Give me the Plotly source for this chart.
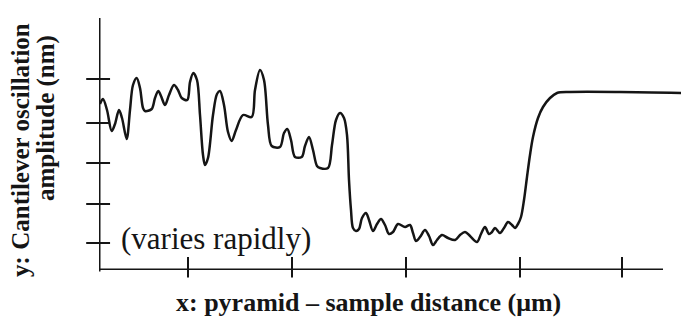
import plotly.graph_objects as go

# Cantilever oscillation amplitude vs. pyramid-sample distance (schematic trace)
distance_um = [
    0.01, 0.04, 0.08, 0.127, 0.16, 0.20, 0.23, 0.277, 0.31, 0.34, 0.377, 0.41, 0.44, 0.46,
    0.527, 0.56, 0.593, 0.62, 0.66, 0.70, 0.75, 0.79, 0.827, 0.883, 0.91, 0.943, 0.98,
    1.01, 1.04, 1.06, 1.09, 1.14, 1.18, 1.21, 1.25, 1.29, 1.327, 1.37, 1.44, 1.527, 1.56,
    1.61, 1.65, 1.69, 1.727, 1.81, 1.85, 1.883, 1.92, 1.96, 2.027, 2.06, 2.10, 2.14, 2.18,
    2.21, 2.29, 2.33, 2.37, 2.41, 2.45, 2.48, 2.50, 2.52, 2.54, 2.57, 2.60, 2.63, 2.67,
    2.70, 2.74, 2.78, 2.82, 2.86, 2.90, 2.94, 2.99, 3.06, 3.11, 3.14, 3.17, 3.21, 3.26,
    3.30, 3.34, 3.38, 3.43, 3.49, 3.56, 3.61, 3.66, 3.71, 3.78, 3.82, 3.86, 3.90, 3.93,
    3.96, 4.01, 4.05, 4.09, 4.13, 4.16, 4.19, 4.22, 4.25, 4.28, 4.31, 4.34, 4.39, 4.44,
    4.51, 4.58, 4.71, 5.21, 5.82,
]
amplitude_nm = [
    16.6, 17.1, 16.0, 13.9, 14.6, 16.0, 15.2, 13.1, 16.0, 18.5, 19.2, 18.2, 16.2, 15.9,
    16.1, 17.2, 17.9, 17.4, 16.5, 17.5, 18.5, 18.0, 17.2, 17.0, 18.8, 19.7, 19.0, 15.5,
    11.5, 10.5, 11.2, 15.5, 17.6, 17.9, 16.5, 13.8, 12.9, 14.0, 15.5, 15.3, 18.0, 20.0,
    19.0, 14.5, 12.4, 12.3, 13.7, 14.1, 13.0, 11.3, 11.3, 12.4, 13.3, 12.0, 10.4, 10.2,
    10.2, 12.5, 15.0, 15.7, 15.2, 13.5, 9.0, 6.0, 4.2, 3.9, 4.1, 5.2, 5.7, 5.0, 3.9, 4.6,
    5.1, 4.5, 3.6, 3.8, 4.6, 4.3, 4.5, 3.7, 2.9, 3.3, 4.0, 3.4, 2.5, 3.0, 3.5, 3.2, 3.0,
    3.5, 3.8, 3.4, 2.8, 3.6, 4.3, 3.6, 3.8, 4.2, 3.7, 4.2, 4.8, 4.5, 4.2, 4.6, 5.3, 7.0,
    9.3, 11.5, 13.3, 15.2, 16.3, 17.2, 17.7, 17.8, 17.8, 17.7,
]

# Unlabelled reference ticks along each axis
x_ticks = [0.89, 1.93, 3.07, 4.21, 5.23]
y_ticks = [19.1, 14.7, 10.7, 6.6, 2.7]

X_MAX = 5.82
Y_MAX = 25.2
X_AXIS_END = 5.64

SERIF = "Liberation Serif"
INK = "#151515"

fig = go.Figure()
fig.add_trace(go.Scatter(
    x=distance_um, y=amplitude_nm, mode="lines",
    line=dict(color=INK, width=2.5, shape="spline", smoothing=0.9),
    hoverinfo="skip", showlegend=False,
))

shapes = [
    # axis lines
    dict(type="line", xref="x", yref="y", x0=0, x1=X_AXIS_END, y0=0, y1=0,
         line=dict(color=INK, width=3)),
    dict(type="line", xref="x", yref="paper", x0=0, x1=0, y0=-0.006, y1=1.0,
         line=dict(color=INK, width=3)),
]
for xv in x_ticks:
    shapes.append(dict(type="line", xref="x", yref="paper", x0=xv, x1=xv,
                       y0=-0.03, y1=0.052, line=dict(color=INK, width=2)))
for yv in y_ticks:
    shapes.append(dict(type="line", xref="paper", yref="y", x0=-0.022, x1=0.019,
                       y0=yv, y1=yv, line=dict(color=INK, width=2)))

annotations = [
    dict(text="(varies rapidly)", x=0.2, y=3.2, xref="x", yref="y",
         xanchor="left", yanchor="middle", showarrow=False,
         font=dict(family=SERIF, size=31, color=INK)),
    dict(text="<b>x: pyramid – sample distance (μm)</b>", x=2.69, y=-0.13,
         xref="x", yref="paper", xanchor="center", yanchor="middle", showarrow=False,
         font=dict(family=SERIF, size=26, color=INK)),
    dict(text="<b>y: Cantilever oscillation</b>", x=-0.136, y=0.476,
         xref="paper", yref="paper", xanchor="center", yanchor="middle", showarrow=False,
         textangle=-90, font=dict(family=SERIF, size=25, color=INK)),
    dict(text="<b>amplitude (nm)</b>", x=-0.091, y=0.603,
         xref="paper", yref="paper", xanchor="center", yanchor="middle", showarrow=False,
         textangle=-90, font=dict(family=SERIF, size=25, color=INK)),
]

fig.update_layout(
    width=681, height=326,
    margin=dict(l=99, r=0, t=18, b=56),
    paper_bgcolor="white", plot_bgcolor="white",
    xaxis=dict(range=[0, X_MAX], visible=False, fixedrange=True),
    yaxis=dict(range=[0, Y_MAX], visible=False, fixedrange=True),
    shapes=shapes, annotations=annotations,
)

fig.write_html("out.html")
